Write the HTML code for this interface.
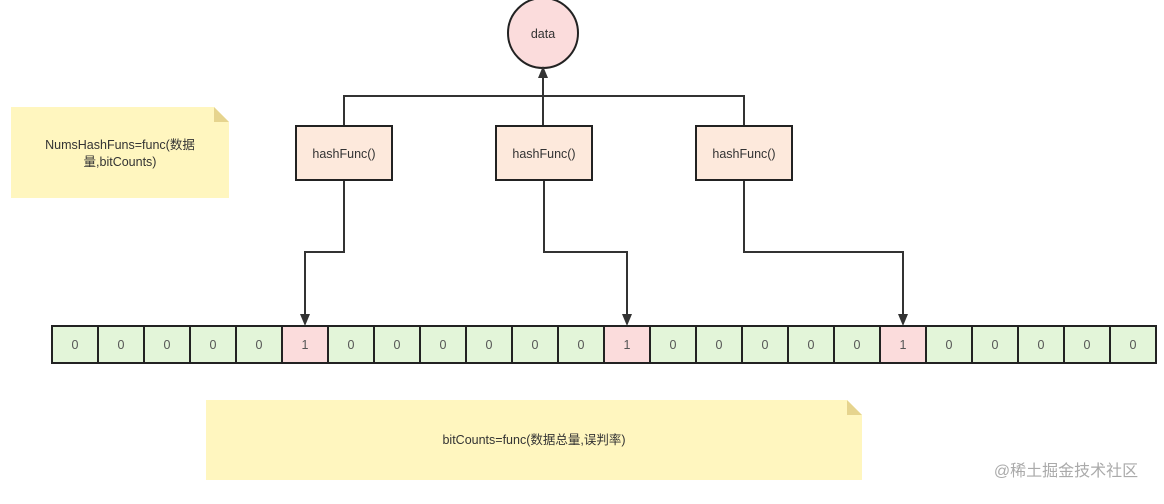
<!DOCTYPE html>
<html><head><meta charset="utf-8"><style>
body{margin:0;background:#fff;width:1164px;height:499px;overflow:hidden;font-family:"Liberation Sans","Noto Sans CJK SC",sans-serif;}
</style></head><body>
<svg width="1164" height="499" viewBox="0 0 1164 499" xmlns="http://www.w3.org/2000/svg" font-family="Liberation Sans, Noto Sans CJK SC, sans-serif">
<!-- note 1 -->
<path d="M11,107 H214 L229,122 V198 H11 Z" fill="#fff6bf"/>
<path d="M214,107 L229,122 H214 Z" fill="#e6d48e"/>
<text x="120" y="149" font-size="12.5" fill="#333" text-anchor="middle">NumsHashFuns=func(数据</text>
<text x="120" y="166" font-size="12.5" fill="#333" text-anchor="middle">量,bitCounts)</text>
<!-- note 2 -->
<path d="M206,400 H847 L862,415 V480 H206 Z" fill="#fff6bf"/>
<path d="M847,400 L862,415 H847 Z" fill="#e6d48e"/>
<text x="534" y="444" font-size="12.5" fill="#333" text-anchor="middle">bitCounts=func(数据总量,误判率)</text>
<!-- circle -->
<circle cx="543" cy="33" r="35" fill="#fbdcdc" stroke="#222" stroke-width="2"/>
<text x="543" y="38" font-size="12.5" fill="#333" text-anchor="middle">data</text>
<g fill="none" stroke="#333" stroke-width="2">
<path d="M344,126 V96 H744 V126"/>
<path d="M543,126 V72"/>
<path d="M344,180 V252 H305 V318"/>
<path d="M544,180 V252 H627 V318"/>
<path d="M744,180 V252 H903 V318"/>
</g>
<path d="M543,66 L538,78 H548 Z" fill="#333"/>
<path d="M305,326 L300,314 H310 Z" fill="#333"/>
<path d="M627,326 L622,314 H632 Z" fill="#333"/>
<path d="M903,326 L898,314 H908 Z" fill="#333"/>
<g stroke="#222" stroke-width="2" fill="#fde9dc">
<rect x="296" y="126" width="96" height="54"/>
<rect x="496" y="126" width="96" height="54"/>
<rect x="696" y="126" width="96" height="54"/>
</g>
<g font-size="12.5" fill="#333" text-anchor="middle">
<text x="344" y="158">hashFunc()</text>
<text x="544" y="158">hashFunc()</text>
<text x="744" y="158">hashFunc()</text>
</g>
<g id="cells" stroke="#222" stroke-width="2" font-size="12.5" text-anchor="middle">
</g>
<text x="1066" y="476" font-size="16" fill="#aaa" text-anchor="middle">@稀土掘金技术社区</text>
<script>
var g=document.getElementById('cells'),ns='http://www.w3.org/2000/svg',w=46;
for(var i=0;i<24;i++){var one=(i==5||i==12||i==18);var r=document.createElementNS(ns,'rect');
r.setAttribute('x',52+i*w);r.setAttribute('y',326);r.setAttribute('width',w);r.setAttribute('height',37);
r.setAttribute('fill',one?'#fbdcdc':'#e3f5d9');g.appendChild(r);
var t=document.createElementNS(ns,'text');t.setAttribute('x',52+i*w+w/2);t.setAttribute('y',349);
t.setAttribute('stroke','none');t.setAttribute('fill','#555');t.textContent=one?'1':'0';g.appendChild(t);}
</script>
</svg>
</body></html>
